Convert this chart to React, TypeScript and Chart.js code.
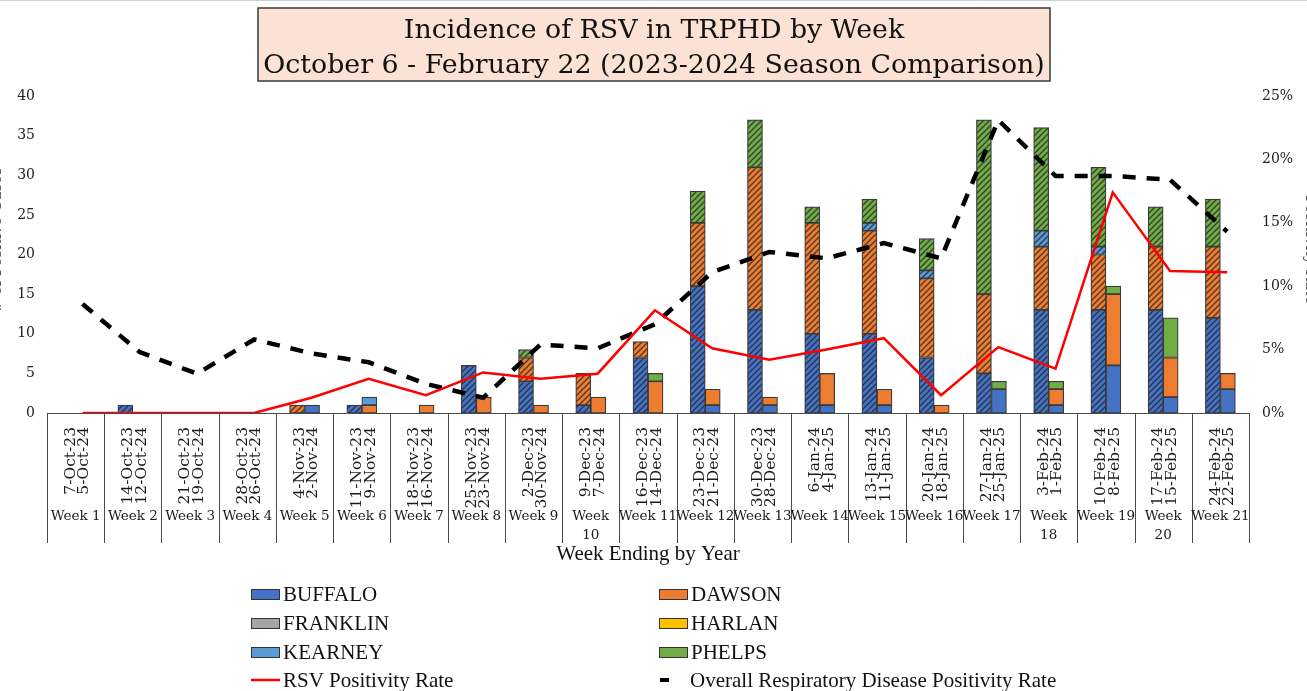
import React, { useEffect, useRef } from 'react';
import { Chart, registerables } from 'chart.js';

Chart.register(...registerables);

const dateLabels: string[][] = [
  ['7-Oct-23', '5-Oct-24'], ['14-Oct-23', '12-Oct-24'], ['21-Oct-23', '19-Oct-24'], ['28-Oct-23', '26-Oct-24'],
  ['4-Nov-23', '2-Nov-24'], ['11-Nov-23', '9-Nov-24'], ['18-Nov-23', '16-Nov-24'], ['25-Nov-23', '23-Nov-24'],
  ['2-Dec-23', '30-Nov-24'], ['9-Dec-23', '7-Dec-24'], ['16-Dec-23', '14-Dec-24'], ['23-Dec-23', '21-Dec-24'],
  ['30-Dec-23', '28-Dec-24'], ['6-Jan-24', '4-Jan-25'], ['13-Jan-24', '11-Jan-25'], ['20-Jan-24', '18-Jan-25'],
  ['27-Jan-24', '25-Jan-25'], ['3-Feb-24', '1-Feb-25'], ['10-Feb-24', '8-Feb-25'], ['17-Feb-24', '15-Feb-25'],
  ['24-Feb-24', '22-Feb-25'],
];
const weekLabels: string[][] = [
  ['Week 1'], ['Week 2'], ['Week 3'], ['Week 4'], ['Week 5'], ['Week 6'], ['Week 7'], ['Week 8'], ['Week 9'],
  ['Week', '10'], ['Week 11'], ['Week 12'], ['Week 13'], ['Week 14'], ['Week 15'], ['Week 16'], ['Week 17'],
  ['Week', '18'], ['Week 19'], ['Week', '20'], ['Week 21'],
];

// 2023-2024 season (hatched bars)
const buffalo2324 = [0, 1, 0, 0, 0, 1, 0, 6, 4, 1, 7, 16, 13, 10, 10, 7, 5, 13, 13, 13, 12];
const dawson2324 = [0, 0, 0, 0, 1, 0, 0, 0, 3, 4, 2, 8, 18, 14, 13, 10, 10, 8, 7, 8, 9];
const franklin2324 = [0, 0, 0, 0, 0, 0, 0, 0, 0, 0, 0, 0, 0, 0, 0, 0, 0, 0, 0, 0, 0];
const harlan2324 = [0, 0, 0, 0, 0, 0, 0, 0, 0, 0, 0, 0, 0, 0, 0, 0, 0, 0, 0, 0, 0];
const kearney2324 = [0, 0, 0, 0, 0, 0, 0, 0, 0, 0, 0, 0, 0, 0, 1, 1, 0, 2, 1, 0, 0];
const phelps2324 = [0, 0, 0, 0, 0, 0, 0, 0, 1, 0, 0, 4, 6, 2, 3, 4, 22, 13, 10, 5, 6];

// 2024-2025 season (solid bars)
const buffalo2425 = [0, 0, 0, 0, 1, 0, 0, 0, 0, 0, 0, 1, 1, 1, 1, 0, 3, 1, 6, 2, 3];
const dawson2425 = [0, 0, 0, 0, 0, 1, 1, 2, 1, 2, 4, 2, 1, 4, 2, 1, 0, 2, 9, 5, 2];
const franklin2425 = [0, 0, 0, 0, 0, 0, 0, 0, 0, 0, 0, 0, 0, 0, 0, 0, 0, 0, 0, 0, 0];
const harlan2425 = [0, 0, 0, 0, 0, 0, 0, 0, 0, 0, 0, 0, 0, 0, 0, 0, 0, 0, 0, 0, 0];
const kearney2425 = [0, 0, 0, 0, 0, 1, 0, 0, 0, 0, 0, 0, 0, 0, 0, 0, 0, 0, 0, 0, 0];
const phelps2425 = [0, 0, 0, 0, 0, 0, 0, 0, 0, 0, 1, 0, 0, 0, 0, 0, 1, 1, 1, 5, 0];

// Positivity rates (%)
const rsvRate = [0, 0, 0, 0, 1.2, 2.7, 1.4, 3.2, 2.7, 3.1, 8.1, 5.1, 4.2, 5.0, 5.9, 1.4, 5.2, 3.5, 17.4, 11.2, 11.1];
const overallRate = [8.6, 4.8, 3.1, 5.8, 4.7, 4.0, 2.3, 1.2, 5.4, 5.1, 7.0, 11.1, 12.7, 12.2, 13.4, 12.2, 23.1, 18.7, 18.7, 18.4, 14.3];

const leftTicks = [0, 5, 10, 15, 20, 25, 30, 35, 40];
const rightTicks = [0, 5, 10, 15, 20, 25];

const COUNTIES = ['BUFFALO', 'DAWSON', 'FRANKLIN', 'HARLAN', 'KEARNEY', 'PHELPS'];
const COLORS: Record<string, string> = {
  BUFFALO: '#4472C4',
  DAWSON: '#ED7D31',
  FRANKLIN: '#A5A5A5',
  HARLAN: '#FFC000',
  KEARNEY: '#5B9BD5',
  PHELPS: '#70AD47',
};

function hatch(color: string): CanvasPattern | string {
  const c = document.createElement('canvas');
  c.width = 6;
  c.height = 6;
  const g = c.getContext('2d');
  if (!g) return color;
  g.fillStyle = color;
  g.fillRect(0, 0, 6, 6);
  g.strokeStyle = 'rgba(35,35,35,0.8)';
  g.lineWidth = 1.3;
  g.beginPath();
  g.moveTo(-1, 7); g.lineTo(7, -1);
  g.moveTo(-4, 4); g.lineTo(4, -4);
  g.moveTo(2, 10); g.lineTo(10, 2);
  g.stroke();
  const p = g.createPattern(c, 'repeat');
  return p || color;
}

const SERIF = '"DejaVu Serif", "Liberation Serif", serif';
const TIMES = '"Liberation Serif", serif';

const decorPlugin = {
  id: 'decor',
  afterDraw(chart: any) {
    const ctx: CanvasRenderingContext2D = chart.ctx;
    const xs = chart.scales.x;
    const area = chart.chartArea;
    const n = dateLabels.length;
    ctx.save();

    // faint frame line at top
    ctx.strokeStyle = '#d0d0d0';
    ctx.lineWidth = 1;
    ctx.beginPath();
    ctx.moveTo(0, 0.5);
    ctx.lineTo(1307, 0.5);
    ctx.stroke();

    // Title box
    ctx.fillStyle = '#FBE2D5';
    ctx.fillRect(258, 8, 792, 73);
    ctx.strokeStyle = '#3a3a3a';
    ctx.lineWidth = 1.5;
    ctx.strokeRect(258, 8, 792, 73);
    ctx.fillStyle = '#111';
    ctx.textAlign = 'center';
    ctx.textBaseline = 'alphabetic';
    const t1 = 'Incidence of RSV in TRPHD by Week';
    const t2 = 'October 6 - February 22 (2023-2024 Season Comparison)';
    ctx.font = `26px ${SERIF}`;
    const w2 = ctx.measureText(t2).width;
    const fs = Math.min(30, 26 * 782 / w2);
    ctx.font = `${fs}px ${SERIF}`;
    ctx.fillText(t1, 654, 38);
    ctx.fillText(t2, 654, 73);

    // partially clipped axis titles
    ctx.fillStyle = '#444';
    ctx.font = `15px ${SERIF}`;
    ctx.save();
    ctx.translate(-3, 240);
    ctx.rotate(-Math.PI / 2);
    ctx.textAlign = 'center';
    ctx.textBaseline = 'middle';
    ctx.fillText('# of Positive Cases', 0, 0);
    ctx.restore();
    ctx.save();
    ctx.translate(1310, 250);
    ctx.rotate(Math.PI / 2);
    ctx.textAlign = 'center';
    ctx.textBaseline = 'middle';
    ctx.fillText('Positivity Rate', 0, 0);
    ctx.restore();

    // x axis baseline and separators
    ctx.strokeStyle = '#4a4a4a';
    ctx.lineWidth = 1;
    ctx.beginPath();
    ctx.moveTo(area.left, area.bottom + 0.5);
    ctx.lineTo(area.right, area.bottom + 0.5);
    for (let i = 0; i <= n; i++) {
      const x = Math.round(xs.getPixelForValue(i - 0.5)) + 0.5;
      ctx.moveTo(x, area.bottom);
      ctx.lineTo(x, 543);
    }
    ctx.stroke();

    // category labels
    ctx.fillStyle = '#1a1a1a';
    for (let i = 0; i < n; i++) {
      const cx = xs.getPixelForValue(i);
      ctx.save();
      ctx.translate(cx + 2, 427);
      ctx.rotate(-Math.PI / 2);
      ctx.textAlign = 'right';
      ctx.textBaseline = 'middle';
      ctx.font = `15.5px ${SERIF}`;
      ctx.fillText(dateLabels[i][0], 0, -6.8);
      ctx.fillText(dateLabels[i][1], 0, 6.8);
      ctx.restore();
      ctx.textAlign = 'center';
      ctx.textBaseline = 'middle';
      ctx.font = `13.5px ${SERIF}`;
      const wl = weekLabels[i];
      wl.forEach((s, j) => ctx.fillText(s, cx, 516 + j * 19));
    }

    ctx.font = `21px ${TIMES}`;
    ctx.fillStyle = '#111';
    ctx.textAlign = 'center';
    ctx.textBaseline = 'middle';
    ctx.fillText('Week Ending by Year', 648, 554);

    // Legend
    const rows = [594, 623, 652, 680];
    const cols = [251, 659];
    ctx.font = `21px ${TIMES}`;
    ctx.textAlign = 'left';
    COUNTIES.forEach((c, k) => {
      const x = cols[k % 2];
      const y = rows[Math.floor(k / 2)];
      ctx.fillStyle = COLORS[c];
      ctx.fillRect(x, y - 5, 28, 10);
      ctx.strokeStyle = '#333';
      ctx.lineWidth = 1;
      ctx.strokeRect(x + 0.5, y - 4.5, 28, 10);
      ctx.fillStyle = '#111';
      ctx.fillText(c, x + 32, y + 1);
    });
    ctx.strokeStyle = '#FF0000';
    ctx.lineWidth = 2.5;
    ctx.beginPath();
    ctx.moveTo(cols[0], rows[3]);
    ctx.lineTo(cols[0] + 29, rows[3]);
    ctx.stroke();
    ctx.fillStyle = '#111';
    ctx.fillText('RSV Positivity Rate', cols[0] + 32, rows[3] + 1);
    ctx.strokeStyle = '#000';
    ctx.lineWidth = 4;
    ctx.beginPath();
    ctx.moveTo(cols[1] + 1, rows[3]);
    ctx.lineTo(cols[1] + 10, rows[3]);
    ctx.stroke();
    ctx.fillText('Overall Respiratory Disease Positivity Rate', cols[1] + 31, rows[3] + 1);

    ctx.restore();
  },
};

const nz = (arr: number[]) => arr.map((v) => (v === 0 ? null : v));
const pts = (arr: number[]) => arr.map((v, i) => ({ x: i, y: v }));

export default function App() {
  const ref = useRef<HTMLCanvasElement | null>(null);

  useEffect(() => {
    document.body.style.margin = '0';
    const canvas = ref.current;
    if (!canvas) return;

    const season1: Record<string, number[]> = {
      BUFFALO: buffalo2324, DAWSON: dawson2324, FRANKLIN: franklin2324,
      HARLAN: harlan2324, KEARNEY: kearney2324, PHELPS: phelps2324,
    };
    const season2: Record<string, number[]> = {
      BUFFALO: buffalo2425, DAWSON: dawson2425, FRANKLIN: franklin2425,
      HARLAN: harlan2425, KEARNEY: kearney2425, PHELPS: phelps2425,
    };

    const barSets: any[] = [];
    COUNTIES.forEach((c) => {
      barSets.push({
        type: 'bar',
        label: c + ' 2023-2024',
        data: nz(season1[c]),
        stack: 's1',
        backgroundColor: hatch(COLORS[c]),
        borderColor: '#3a3a3a',
        borderWidth: 1.2,
        borderSkipped: false,
        xAxisID: 'x',
        yAxisID: 'y',
        order: 2,
        barThickness: 15,
      });
    });
    COUNTIES.forEach((c) => {
      barSets.push({
        type: 'bar',
        label: c + ' 2024-2025',
        data: nz(season2[c]),
        stack: 's2',
        backgroundColor: COLORS[c],
        borderColor: '#3a3a3a',
        borderWidth: 1.2,
        borderSkipped: false,
        xAxisID: 'x',
        yAxisID: 'y',
        order: 2,
        barThickness: 15,
      });
    });

    const chart = new Chart(canvas, {
      type: 'bar',
      data: {
        labels: weekLabels.map((w) => w.join(' ')),
        datasets: [
          {
            type: 'line',
            label: 'RSV Positivity Rate',
            data: pts(rsvRate),
            borderColor: '#FF0000',
            borderWidth: 2.5,
            pointRadius: 0,
            tension: 0,
            xAxisID: 'x2',
            yAxisID: 'y1',
            order: 0,
          } as any,
          {
            type: 'line',
            label: 'Overall Respiratory Disease Positivity Rate',
            data: pts(overallRate),
            borderColor: '#000000',
            borderWidth: 4.5,
            borderDash: [13, 11],
            pointRadius: 0,
            tension: 0,
            xAxisID: 'x2',
            yAxisID: 'y1',
            order: 1,
          } as any,
          ...barSets,
        ],
      },
      options: {
        responsive: false,
        animation: false,
        layout: { padding: { top: 96, bottom: 278, left: 0, right: 0 } },
        plugins: {
          legend: { display: false },
          title: { display: false },
          tooltip: { enabled: false },
        },
        scales: {
          x: {
            type: 'category',
            display: false,
            offset: true,
            stacked: true,
          },
          x2: {
            type: 'linear',
            axis: 'x',
            position: 'bottom',
            display: false,
            offset: false,
            grid: { offset: false },
            min: -0.62,
            max: 20.38,
          },
          y: {
            position: 'left',
            stacked: true,
            min: 0,
            max: 40,
            afterBuildTicks: (s: any) => { s.ticks = leftTicks.map((v) => ({ value: v })); },
            grid: { display: false, drawTicks: false },
            border: { display: false },
            ticks: { padding: 12, color: '#222', font: { family: SERIF, size: 14 } },
            afterFit: (s: any) => { s.width = 47; },
          },
          y1: {
            position: 'right',
            min: 0,
            max: 25,
            afterBuildTicks: (s: any) => { s.ticks = rightTicks.map((v) => ({ value: v })); },
            grid: { display: false, drawTicks: false },
            border: { display: false },
            ticks: {
              padding: 13,
              color: '#222',
              font: { family: SERIF, size: 14 },
              callback: (v: any) => v + '%',
            },
            afterFit: (s: any) => { s.width = 58; },
          },
        },
      } as any,
      plugins: [decorPlugin],
    });

    return () => chart.destroy();
  }, []);

  return (
    <div style={{ position: 'fixed', left: 0, top: 0, width: 1307, height: 691, background: '#fff' }}>
      <canvas ref={ref} width={1307} height={691} style={{ display: 'block', width: 1307, height: 691 }} />
    </div>
  );
}
